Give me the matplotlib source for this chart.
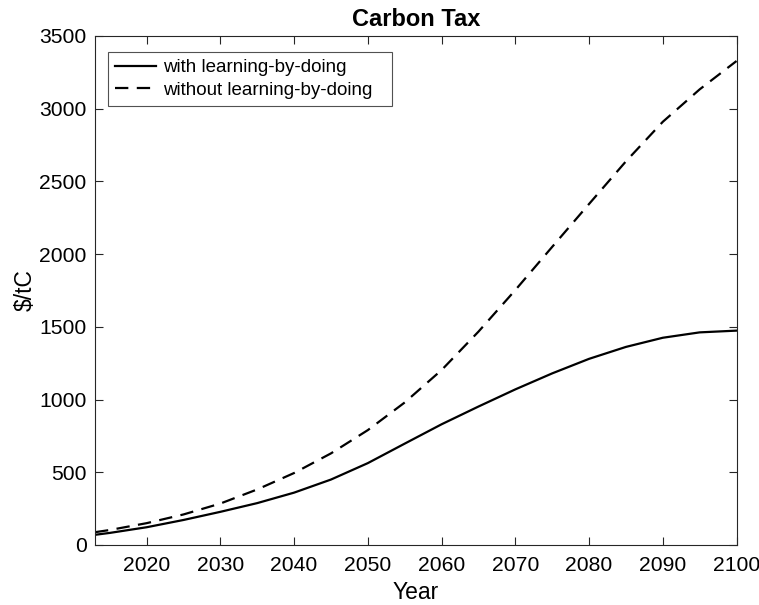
import matplotlib
matplotlib.use("Agg")
import matplotlib.pyplot as plt

plt.rcParams['font.family'] = ['Liberation Sans', 'DejaVu Sans']

years = [2013, 2015, 2020, 2025, 2030, 2035, 2040, 2045, 2050, 2055, 2060,
         2065, 2070, 2075, 2080, 2085, 2090, 2095, 2100]
with_lbd = [70, 83, 122, 172, 228, 288, 360, 450, 563, 697, 830,
            952, 1070, 1180, 1280, 1362, 1425, 1462, 1474]
without_lbd = [88, 103, 150, 210, 285, 382, 495, 630, 790, 980, 1203,
               1467, 1753, 2050, 2345, 2638, 2910, 3133, 3328]
xticks = [2020, 2030, 2040, 2050, 2060, 2070, 2080, 2090, 2100]
yticks = [0, 500, 1000, 1500, 2000, 2500, 3000, 3500]

fig = plt.figure(figsize=(7.59, 6.05), dpi=100)
ax = fig.add_axes([0.1252, 0.0992, 0.8452, 0.8413])

ax.plot(years, with_lbd, color='black', lw=1.6, ls='-', label='with learning-by-doing')
ax.plot(years, without_lbd, color='black', lw=1.6, ls=(0, (6.0, 3.8)),
        label='without learning-by-doing')

ax.set_xlim(2013, 2100)
ax.set_ylim(0, 3500)
ax.set_xticks(xticks)
ax.set_yticks(yticks)
ax.tick_params(direction='in', top=True, right=True, length=6, width=0.8,
               labelsize=15.2, color='#262626', labelcolor='black')
ax.tick_params(axis='x', pad=8)
ax.tick_params(axis='y', pad=6)
for s in ax.spines.values():
    s.set_color('#262626')
    s.set_linewidth(0.8)

ax.set_xlabel('Year', fontsize=16.5, labelpad=4)
ax.set_ylabel('$/tC', fontsize=16.5, labelpad=2)
ax.set_title('Carbon Tax', fontsize=17, fontweight='bold', pad=7.5)

leg = ax.legend(loc='upper left', bbox_to_anchor=(0.0203, 0.8, 0.4427, 0.1686),
                mode='expand', borderaxespad=0,
                fontsize=13.5, frameon=True, fancybox=False, edgecolor='#262626',
                handlelength=2.2, handletextpad=0.35, borderpad=0.38, labelspacing=0.3)
leg.get_frame().set_linewidth(0.8)

fig.savefig('out.png', dpi=100)
